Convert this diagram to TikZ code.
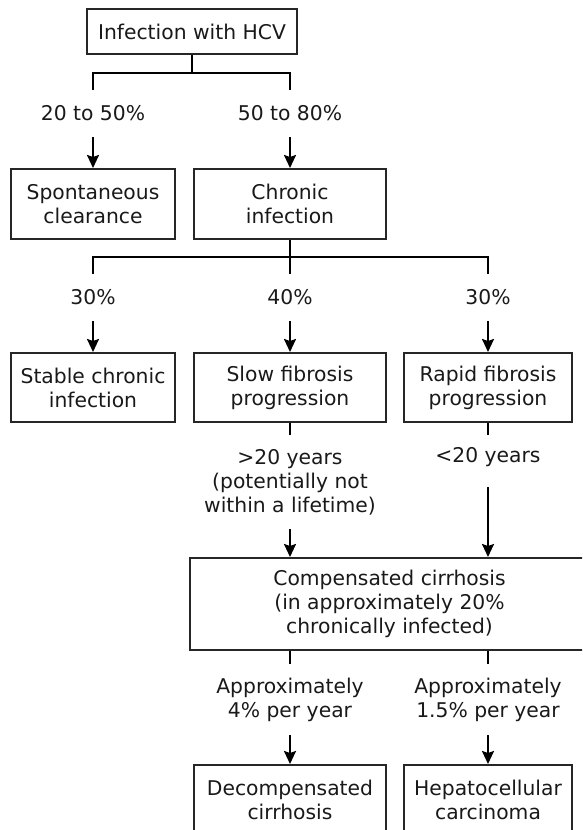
\documentclass[tikz,border=0pt]{standalone}
\usepackage{fontspec}
\setmainfont{DejaVu Sans}
\usetikzlibrary{arrows.meta}
\begin{document}
\begin{tikzpicture}[x=1pt,y=1pt,
  every node/.style={font=\fontsize{20.3}{24}\selectfont, text=black!90, inner sep=0pt},
  box/.style={draw=black!85, line width=2pt, align=center, minimum height=70pt},
  lab/.style={align=center},
  ln/.style={line width=2pt, draw=black},
  arr/.style={ln, -{Stealth[length=13pt,width=12pt,inset=2pt]}}]

\useasboundingbox (0,0) rectangle (582,-830);
\clip (0,0) rectangle (582,-830);

% level 1
\node[box, minimum width=210pt, minimum height=45pt] (top) at (192,-31.5) {Infection with HCV};
\coordinate (j1) at (192,-73);
\node[lab, minimum height=47pt] (p1) at (93,-113.5) {20 to 50\%};
\node[lab, minimum height=47pt] (p2) at (290,-113.5) {50 to 80\%};
\node[box, minimum width=164pt] (sc) at (93,-204) {Spontaneous\\clearance};
\node[box, minimum width=192pt] (ci) at (290,-204) {Chronic\\infection};
\draw[ln] (top.south) -- (j1);
\draw[ln] (j1) -| (p1.north);
\draw[ln] (j1) -| (p2.north);
\draw[arr] (p1.south) -- (sc.north);
\draw[arr] (p2.south) -- (ci.north);

% level 2
\coordinate (j2) at (290,-257);
\node[lab, minimum height=47pt] (q1) at (93,-297.5) {30\%};
\node[lab, minimum height=47pt] (q2) at (290,-297.5) {40\%};
\node[lab, minimum height=47pt] (q3) at (488,-297.5) {30\%};
\node[box, minimum width=164pt, minimum height=69pt] (st) at (93,-387.5) {Stable chronic\\infection};
\node[box, minimum width=192pt, minimum height=69pt] (sl) at (290,-387.5) {Slow fibrosis\\progression};
\node[box, minimum width=168pt, minimum height=69pt] (ra) at (488,-387.5) {Rapid fibrosis\\progression};
\draw[ln] (ci.south) -- (j2);
\draw[ln] (j2) -| (q1.north);
\draw[ln] (j2) -- (q2.north);
\draw[ln] (j2) -| (q3.north);
\draw[arr] (q1.south) -- (st.north);
\draw[arr] (q2.south) -- (sl.north);
\draw[arr] (q3.south) -- (ra.north);

% level 3
\node[lab, minimum height=94pt] (g1) at (290,-482) {>20 years\\(potentially not\\within a lifetime)};
\node[lab, minimum height=44pt] (g2) at (488,-457) {<20 years};
\node[box, minimum width=399pt, minimum height=92pt] (cc) at (389.5,-604) {Compensated cirrhosis\\(in approximately 20\%\\chronically infected)};
\draw[ln] (sl.south) -- (g1.north);
\draw[ln] (ra.south) -- (g2.north);
\draw[arr] (g1.south) -- (g1.south |- cc.north);
\draw[arr] ([yshift=-8pt]g2.south) -- (g2.south |- cc.north);

% level 4
\node[lab, minimum height=71pt] (h1) at (290,-699.5) {Approximately\\4\% per year};
\node[lab, minimum height=71pt] (h2) at (488,-699.5) {Approximately\\1.5\% per year};
\node[box, minimum width=192pt] (dc) at (290,-800) {Decompensated\\cirrhosis};
\node[box, minimum width=168pt] (hc) at (488,-800) {Hepatocellular\\carcinoma};
\draw[ln] (cc.south -| h1) -- (h1.north);
\draw[ln] (cc.south -| h2) -- (h2.north);
\draw[arr] (h1.south) -- (dc.north);
\draw[arr] (h2.south) -- (hc.north);
\end{tikzpicture}
\end{document}
